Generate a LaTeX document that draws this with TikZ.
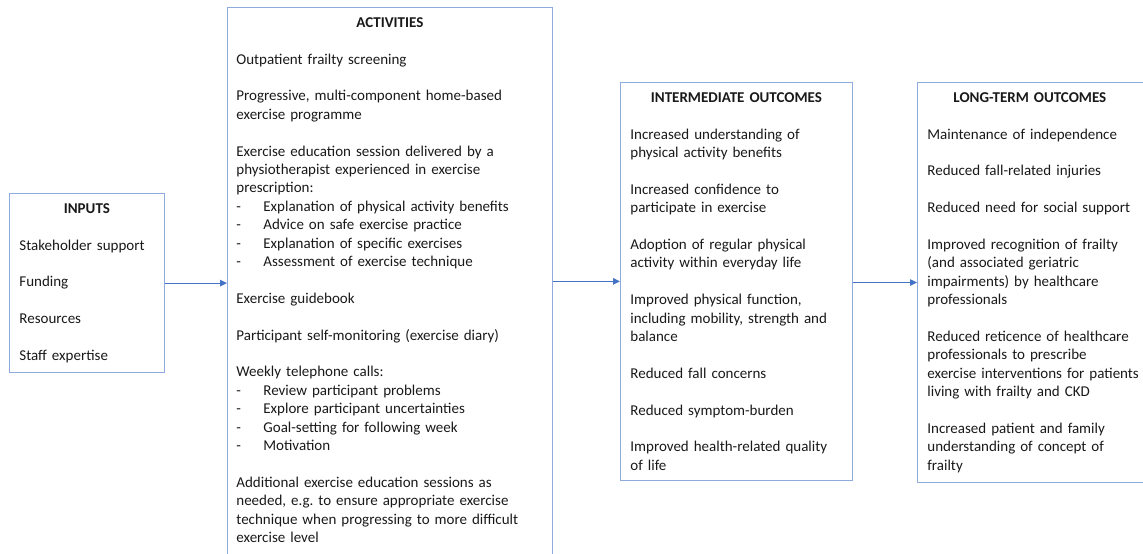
\documentclass[tikz,border=0pt]{standalone}
\usepackage{fontspec}
\setmainfont{Carlito}
\usepackage{xcolor}
\usepackage{tikz}
\usetikzlibrary{arrows.meta}

\definecolor{boxline}{RGB}{143,170,220}
\definecolor{flowblue}{RGB}{68,114,196}
\definecolor{bodytext}{RGB}{25,25,25}

\newcommand{\boxtitle}[1]{\makebox[\linewidth]{\bfseries #1}}
\newcommand{\gapline}{\\[18.4pt]}
\newcommand{\dashitem}[1]{\makebox[27pt][l]{-}#1}

\begin{document}
\begin{tikzpicture}[x=1pt,y=-1pt,font=\fontsize{15}{18.4}\selectfont,
  every node/.style={text=bodytext},
  stagebox/.style={draw=boxline,line width=0.8pt,anchor=north west,align=left,inner xsep=10pt,inner ysep=10pt},
  flow/.style={draw=flowblue,line width=1pt,-{Triangle[length=7pt,width=6.5pt]}}]
  \useasboundingbox (0,0) rectangle (1143,554);

  \node[stagebox,text width=135pt] (inputs) at (9,193) {%
    \boxtitle{INPUTS}\gapline
    Stakeholder support\gapline
    Funding\gapline
    Resources\gapline
    Staff expertise};

  \node[stagebox,text width=307pt,inner xsep=9pt] (activities) at (227,7) {%
    \boxtitle{ACTIVITIES}\gapline
    Outpatient frailty screening\gapline
    Progressive, multi-component home-based\\
    exercise programme\gapline
    Exercise education session delivered by a\\
    physiotherapist experienced in exercise\\
    prescription:\\
    \dashitem{Explanation of physical activity benefits}\\
    \dashitem{Advice on safe exercise practice}\\
    \dashitem{Explanation of specific exercises}\\
    \dashitem{Assessment of exercise technique}\gapline
    Exercise guidebook\gapline
    Participant self-monitoring (exercise diary)\gapline
    Weekly telephone calls:\\
    \dashitem{Review participant problems}\\
    \dashitem{Explore participant uncertainties}\\
    \dashitem{Goal-setting for following week}\\
    \dashitem{Motivation}\gapline
    Additional exercise education sessions as\\
    needed, e.g.\ to ensure appropriate exercise\\
    technique when progressing to more difficult\\
    exercise level\rule[-10pt]{0pt}{10pt}};

  \node[stagebox,text width=212pt] (intermed) at (620,82) {%
    \boxtitle{INTERMEDIATE OUTCOMES}\gapline
    Increased understanding of\\
    physical activity benefits\gapline
    Increased confidence to\\
    participate in exercise\gapline
    Adoption of regular physical\\
    activity within everyday life\gapline
    Improved physical function,\\
    including mobility, strength and\\
    balance\gapline
    Reduced fall concerns\gapline
    Reduced symptom-burden\gapline
    Improved health-related quality\\
    of life};

  \node[stagebox,text width=215pt] (longterm) at (917,82) {%
    \boxtitle{\hspace*{-10pt}LONG-TERM OUTCOMES}\gapline
    Maintenance of independence\gapline
    Reduced fall-related injuries\gapline
    Reduced need for social support\gapline
    Improved recognition of frailty\\
    (and associated geriatric\\
    impairments) by healthcare\\
    professionals\gapline
    Reduced reticence of healthcare\\
    professionals to prescribe\\
    exercise interventions for patients\\
    living with frailty and CKD\gapline
    Increased patient and family\\
    understanding of concept of\\
    frailty};

  % links between the stages
  \draw[flow] (inputs.east) -- (inputs.east -| activities.west);
  \draw[flow] (intermed.west -| activities.east) -- (intermed.west);
  \draw[flow] (longterm.west -| intermed.east) -- (longterm.west);
\end{tikzpicture}
\end{document}
